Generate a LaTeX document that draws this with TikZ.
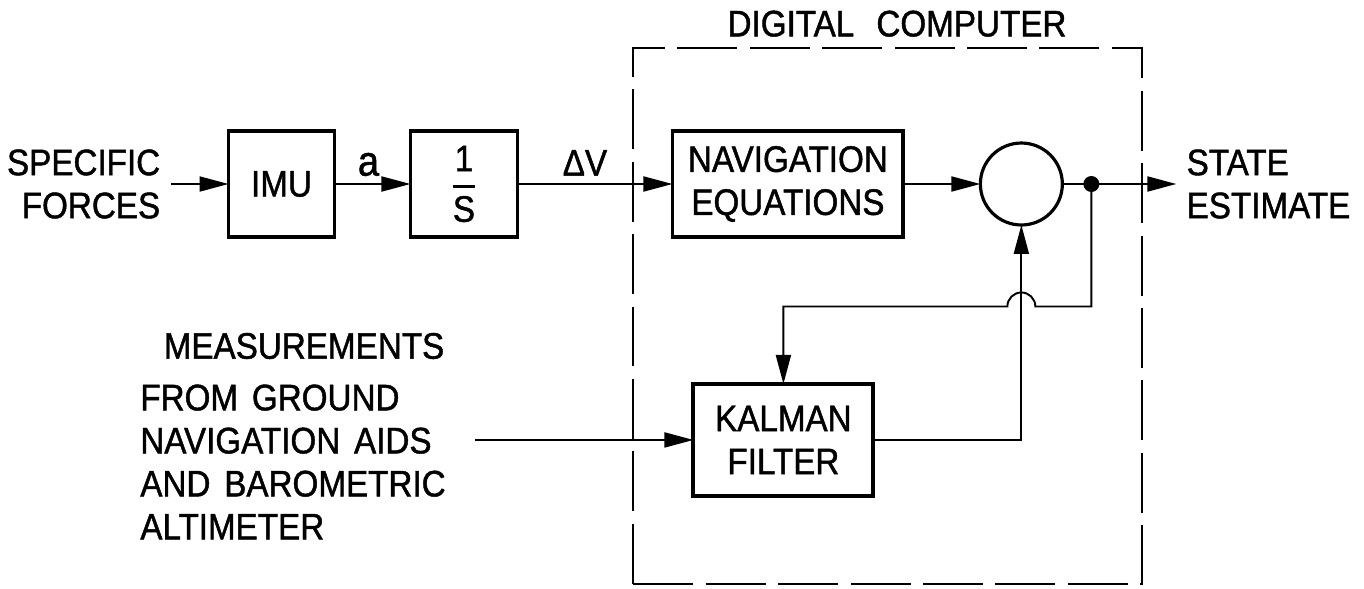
\documentclass[tikz,border=0pt]{standalone}
\usepackage{amsmath}
\usepackage{fontspec}
\setmainfont{Liberation Sans}[FakeStretch=0.9, WordSpace=1.5, FakeBold=1.2]
\usepackage{tikz}
\usetikzlibrary{arrows.meta, positioning, calc}

\newcommand{\lettering}{\fontsize{21}{24.5}\selectfont}

\begin{document}
\begin{tikzpicture}[
    x=0.02cm, y=-0.02cm,
    node distance=1.5cm,
    box/.style={rectangle, draw, line width=2.2pt, minimum height=2.12cm, inner sep=0pt, outer sep=0pt, align=center, font=\lettering},
    txt/.style={font=\lettering, inner sep=0.2cm},
    lbl/.style={font=\lettering, inner sep=0.15cm},
    junction/.style={circle, draw, line width=1.8pt, minimum size=1.64cm, inner sep=0pt, outer sep=0pt},
    arrow/.style={-{Triangle[length=0.58cm, width=0.3cm]}, line width=1.1pt},
    wire/.style={line width=1.1pt},
    dashbox/.style={draw, line width=1.1pt, dash pattern=on 1.2cm off 0.25cm, inner sep=0pt},
]
\useasboundingbox (0,0) rectangle (1364,588);

\node[box, minimum width=2.12cm] (imu) at (281.5,184) {IMU};
\node[box, minimum width=2.14cm, right=1.52cm of imu] (intg) {$\genfrac{}{}{1.5pt}{0}{\text{1}}{\text{S}}$};
\node[box, minimum width=4.62cm, right=3.1cm of intg] (nav) {NAVIGATION\\EQUATIONS};
\node[junction, right=1.54cm of nav] (add) {};
\coordinate[right=0.58cm of add] (tap);
\node[txt, align=left, right=1.7cm of tap] (est) {STATE\\ESTIMATE};
\node[txt, align=right, left=1.16cm of imu] (spec) {SPECIFIC\\FORCES};

\node[box, minimum width=3.6cm, minimum height=2.24cm, below=2.94cm of nav, xshift=-0.09cm] (kal) {KALMAN\\FILTER};
\coordinate[left=4.36cm of kal] (src);
\node[txt] (mlbl) at (304,346) {MEASUREMENTS};
\node[txt, align=left, anchor=west] (aids) at (130,462) {FROM GROUND\\NAVIGATION AIDS\\AND BAROMETRIC\\ALTIMETER};

% digital computer boundary
\node[dashbox, minimum width=10.18cm, minimum height=10.72cm] (dc) at (887.5,316) {};
\node[txt, above=0pt of dc.north, xshift=0.19cm] (dclbl) {DIGITAL\hspace{0.6em}COMPUTER};

\draw[arrow] (spec) -- (imu);
\draw[arrow] (imu) -- node[lbl, above, inner sep=0.14cm, xshift=-0.08cm, font=\fontsize{24}{24}\selectfont] {a} (intg);
\draw[arrow] (intg) -- node[lbl, above, xshift=-0.2cm] {ΔV} (nav);
\draw[arrow] (nav) -- (add);
\draw[wire] (add) -- (tap);
\draw[arrow] (tap) -- (est);
\fill (tap) circle (0.16cm);

\draw[arrow] (src) -- (kal);
\draw[arrow] (kal) -| (add);

% feedback with hop over
\coordinate[below=2.45cm of tap] (fb);
\draw[arrow] (tap) -- (fb) -- ($(add |- fb)+(0.28cm,0)$) arc[start angle=0, end angle=180, radius=0.28cm] -- (kal.north |- fb) -- (kal.north);

\end{tikzpicture}
\end{document}
